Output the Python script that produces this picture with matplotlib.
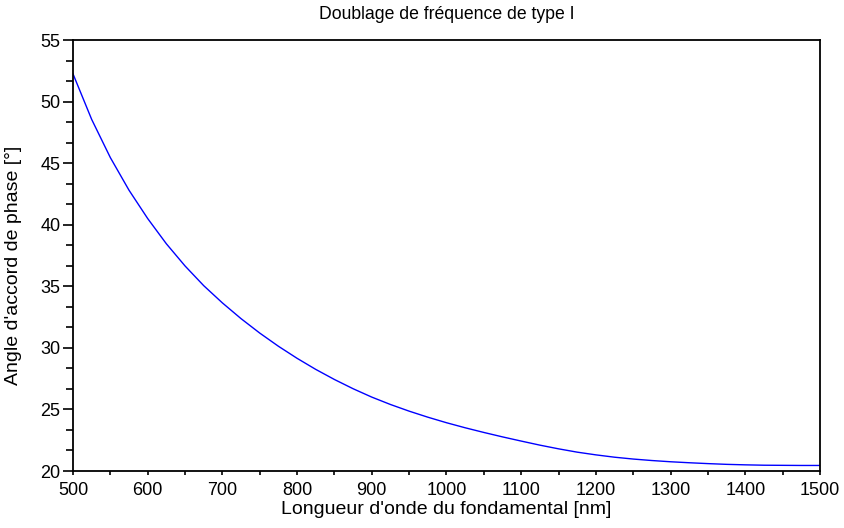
import matplotlib
matplotlib.use("Agg")
import matplotlib.pyplot as plt
from matplotlib.ticker import MultipleLocator

plt.rcParams['font.family'] = ['Liberation Sans', 'DejaVu Sans']

# fundamental wavelength [nm] and type I phase-matching angle [deg]
wavelength = [500, 525, 550, 575, 600, 625, 650, 675, 700, 725, 750, 775, 800,
              825, 850, 875, 900, 925, 950, 975, 1000, 1025, 1050, 1075, 1100,
              1125, 1150, 1175, 1200, 1225, 1250, 1275, 1300, 1325, 1350, 1375,
              1400, 1425, 1450, 1475, 1500]
angle = [52.25, 48.55, 45.45, 42.8, 40.5, 38.45, 36.65, 35.05, 33.65, 32.37,
         31.2, 30.13, 29.15, 28.25, 27.43, 26.68, 26.0, 25.4, 24.86, 24.37,
         23.92, 23.51, 23.13, 22.77, 22.43, 22.1, 21.8, 21.53, 21.31, 21.12,
         20.97, 20.85, 20.75, 20.67, 20.6, 20.54, 20.5, 20.47, 20.46, 20.45,
         20.45]

fig = plt.figure(figsize=(8.45, 5.28), dpi=100)
ax = fig.add_axes([73/845, 1-471/528, (820-73)/845, (471-40)/528])

ax.plot(wavelength, angle, color='#0000ff', linewidth=1.0)

ax.set_xlim(500, 1500)
ax.set_ylim(20, 55)
ax.xaxis.set_major_locator(MultipleLocator(100))
ax.xaxis.set_minor_locator(MultipleLocator(50))
ax.yaxis.set_major_locator(MultipleLocator(5))
ax.yaxis.set_minor_locator(MultipleLocator(5/3))

ax.tick_params(axis='y', which='major', direction='out', length=7, width=1.2,
               labelsize=13, pad=2)
ax.tick_params(axis='y', which='minor', direction='out', length=5, width=1.2)
ax.tick_params(axis='x', which='both', direction='out', length=3, width=1.2,
               labelsize=13, pad=5)

for s in ax.spines.values():
    s.set_linewidth(1.3)

ax.set_title("Doublage de fréquence de type I", fontsize=12.7, pad=15)
ax.set_xlabel("Longueur d'onde du fondamental [nm]", fontsize=14, labelpad=1)
ax.set_ylabel("Angle d'accord de phase [°]", fontsize=14)
ax.yaxis.set_label_coords(-0.068, 0.478)

fig.savefig("out.png", dpi=100)
